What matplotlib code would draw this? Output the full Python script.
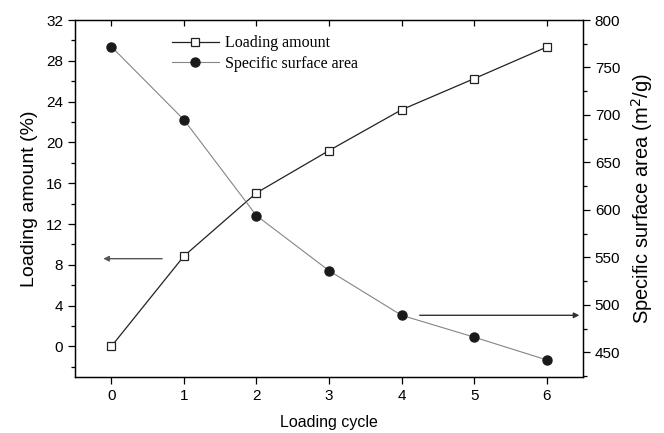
import numpy as np
import matplotlib
matplotlib.use('Agg')
import matplotlib.pyplot as plt
from matplotlib.ticker import MultipleLocator

plt.rcParams['font.family'] = ['Liberation Sans', 'DejaVu Sans']

cycle = [0, 1, 2, 3, 4, 5, 6]
loading = [0.0, 8.85, 15.05, 19.2, 23.2, 26.25, 29.35]
surface = [772, 695, 594, 536, 489, 466, 442]

fig = plt.figure(figsize=(6.64, 4.33), dpi=100)
ax = fig.add_axes([0.113, 0.1293, 0.765, 0.8245])
ax2 = ax.twinx()

l1, = ax.plot(cycle, loading, color='#222222', lw=0.9, marker='s', ms=5.5,
              mfc='white', mec='#222222', mew=0.9, label='Loading amount')
l2, = ax2.plot(cycle, surface, color='#858585', lw=0.8, marker='o', ms=6.5,
               mfc='#1a1a1a', mec='#1a1a1a', label='Specific surface area')

ax.set_xlim(-0.5, 6.5)
ax.set_ylim(-3, 32)
ax2.set_ylim(424, 800)
ax.set_xticks(cycle)
ax.yaxis.set_major_locator(MultipleLocator(4))
ax.yaxis.set_minor_locator(MultipleLocator(2))
ax2.yaxis.set_major_locator(MultipleLocator(50))
ax2.yaxis.set_minor_locator(MultipleLocator(25))

ax.tick_params(axis='x', which='major', direction='out', length=5, width=0.9,
               top=True, labelsize=11)
ax.tick_params(axis='y', which='major', direction='out', length=5, width=0.9, labelsize=11)
ax.tick_params(axis='y', which='minor', direction='out', length=3, width=0.9)
ax2.tick_params(axis='y', which='major', direction='out', length=5, width=0.9, labelsize=11)
ax2.tick_params(axis='y', which='minor', direction='out', length=3, width=0.9)
# top ticks point inward
for t in ax.xaxis.get_major_ticks():
    t.tick2line.set_marker(3)
    t.tick2line.set_markersize(4)

for a in (ax, ax2):
    for s in a.spines.values():
        s.set_linewidth(0.9)

ax.set_xlabel('Loading cycle', fontsize=11.5, labelpad=9)
ax.set_ylabel('Loading amount (%)', fontsize=14, labelpad=6)
ax2.set_ylabel('Specific surface area (m$^2$/g)', fontsize=14.5, labelpad=6)

ax.annotate('', xy=(-0.11, 8.6), xytext=(0.7, 8.6),
            arrowprops=dict(arrowstyle='-|>', color='#555555', lw=1.0,
                            mutation_scale=8, shrinkA=0, shrinkB=0))
ax2.annotate('', xy=(6.45, 489), xytext=(4.25, 489),
             arrowprops=dict(arrowstyle='-|>', color='#333333', lw=1.0,
                             mutation_scale=8, shrinkA=0, shrinkB=0))

leg = ax.legend([l1, l2], ['Loading amount', 'Specific surface area'],
                loc='upper left', bbox_to_anchor=(0.163, 0.998), frameon=False,
                prop={'family': 'Liberation Serif', 'size': 11.5},
                handlelength=2.9, handletextpad=0.4, labelspacing=0.3)

fig.savefig('out.png', dpi=100)
